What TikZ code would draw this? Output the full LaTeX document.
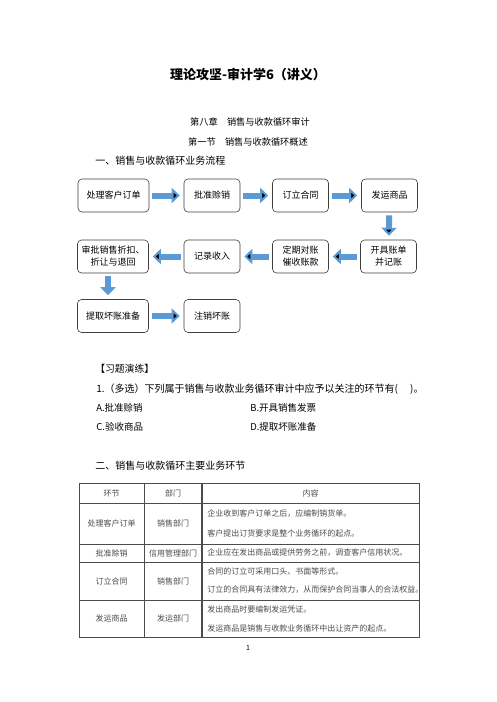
\documentclass[tikz,border=0pt]{standalone}
\usepackage{fontspec}
\setmainfont{Noto Sans CJK SC}
\usetikzlibrary{arrows.meta}
\definecolor{arrowblue}{RGB}{91,155,213}

\begin{document}
\begin{tikzpicture}[x=1pt,y=-1pt,line width=0.6pt]
\tikzset{box/.style = {shape=rectangle, rounded corners=4pt, draw=black!75, minimum height=33pt, minimum width=56pt, align=center, inner sep=1pt, font=\fontsize{9}{12}\selectfont}}
\tikzset{wide/.style = {box, minimum width=71pt}}
\tikzset{flow/.style = {draw=arrowblue, line width=6pt, -{Triangle[width=15pt,length=8pt]}, shorten <=3pt, shorten >=4pt}}
\tikzset{heading/.style = {inner sep=0pt, anchor=west, font=\fontsize{10}{12}\selectfont}}
\tikzset{cell/.style = {inner sep=0pt, text=black!70, font=\fontsize{8}{10}\selectfont}}
\useasboundingbox[fill=white] (0,0) rectangle (496,702);

%titles
\node[inner sep=0pt, font=\fontsize{13}{15}\selectfont\bfseries] (title) at (248,75) {理论攻坚-审计学6（讲义）};
\node[inner sep=0pt, font=\fontsize{9.2}{11}\selectfont] (chapter) at (250,122) {第八章\quad 销售与收款循环审计};
\node[inner sep=0pt, font=\fontsize{9.2}{11}\selectfont] (section) at (248,142) {第一节\quad 销售与收款循环概述};
\node[heading] (flowhead) at (95,161) {一、销售与收款循环业务流程};

%states
\node[wide] (order) at (113.5,195.5) {处理客户订单};
\node[box] (credit) at (212,195.5) {批准赊销};
\node[box] (contract) at (300.5,195.5) {订立合同};
\node[box] (ship) at (389.5,195.5) {发运商品};
\node[box] (bill) at (388.5,256.5) {开具账单\\并记账};
\node[box] (collect) at (300.5,256.5) {定期对账\\催收账款};
\node[box] (revenue) at (212,256.5) {记录收入};
\node[wide] (discount) at (113,256.5) {审批销售折扣、\\折让与退回};
\node[wide] (allow) at (113,316) {提取坏账准备};
\node[box] (writeoff) at (212,316) {注销坏账};

%transitions
\path[flow] (order) edge (credit);
\path[flow] (credit) edge (contract);
\path[flow] (contract) edge (ship);
\path[flow] (ship) edge (bill);
\path[flow] (bill) edge (collect);
\path[flow] (collect) edge (revenue);
\path[flow] (revenue) edge (discount);
\draw[flow] ([xshift=-5pt]discount.south) -- ([xshift=-5pt]allow.north);
\path[flow] (allow) edge (writeoff);

%exercise
\node[heading, font=\fontsize{9.8}{12}\selectfont] (drill) at (95,369) {【习题演练】};
\node[heading, font=\fontsize{10}{12}\selectfont] (question) at (96,389) {1.（多选）下列属于销售与收款业务循环审计中应予以关注的环节有(\quad\ )。};
\node[heading, font=\fontsize{9.5}{12}\selectfont] (optA) at (96,408) {A.批准赊销};
\node[heading, font=\fontsize{9.5}{12}\selectfont] (optB) at (250,408) {B.开具销售发票};
\node[heading, font=\fontsize{9.5}{12}\selectfont] (optC) at (96,427) {C.验收商品};
\node[heading, font=\fontsize{9.5}{12}\selectfont] (optD) at (250,427) {D.提取坏账准备};
\node[heading] (tablehead) at (95,466) {二、销售与收款循环主要业务环节};

%table
\draw[black!70, line width=0.7pt] (79,483) rectangle (419,637);
\foreach \y in {503,544,562,600}
  \draw[black!70, line width=0.7pt] (79,\y) -- (419,\y);
\draw[black!70, line width=0.7pt] (144,483) -- (144,637);
\draw[black!70, line width=1.2pt] (202,483) -- (202,637);

\node[cell] (hstep) at (111.5,493) {环节};
\node[cell] (hdept) at (173,493) {部门};
\node[cell] (hcont) at (310.5,493) {内容};

\node[cell] (s1) at (111.5,523.5) {处理客户订单};
\node[cell] (d1) at (173,523.5) {销售部门};
\node[cell, anchor=west] (c1a) at (207,514) {企业收到客户订单之后，应编制销货单。};
\node[cell, anchor=west] (c1b) at (207,533) {客户提出订货要求是整个业务循环的起点。};

\node[cell] (s2) at (111.5,553) {批准赊销};
\node[cell] (d2) at (173,553) {信用管理部门};
\node[cell, anchor=west] (c2a) at (207,553) {企业应在发出商品或提供劳务之前，调查客户信用状况。};

\node[cell] (s3) at (111.5,581) {订立合同};
\node[cell] (d3) at (173,581) {销售部门};
\node[cell, anchor=west] (c3a) at (207,571) {合同的订立可采用口头、书面等形式。};
\node[cell, anchor=west] (c3b) at (207,590) {订立的合同具有法律效力，从而保护合同当事人的合法权益。};

\node[cell] (s4) at (111.5,618.5) {发运商品};
\node[cell] (d4) at (173,618.5) {发运部门};
\node[cell, anchor=west] (c4a) at (207,609) {发出商品时要编制发运凭证。};
\node[cell, anchor=west] (c4b) at (207,628) {发运商品是销售与收款业务循环中出让资产的起点。};

\node[inner sep=0pt, font=\fontsize{7}{8}\selectfont] (page) at (248,648) {1};
\end{tikzpicture}
\end{document}
